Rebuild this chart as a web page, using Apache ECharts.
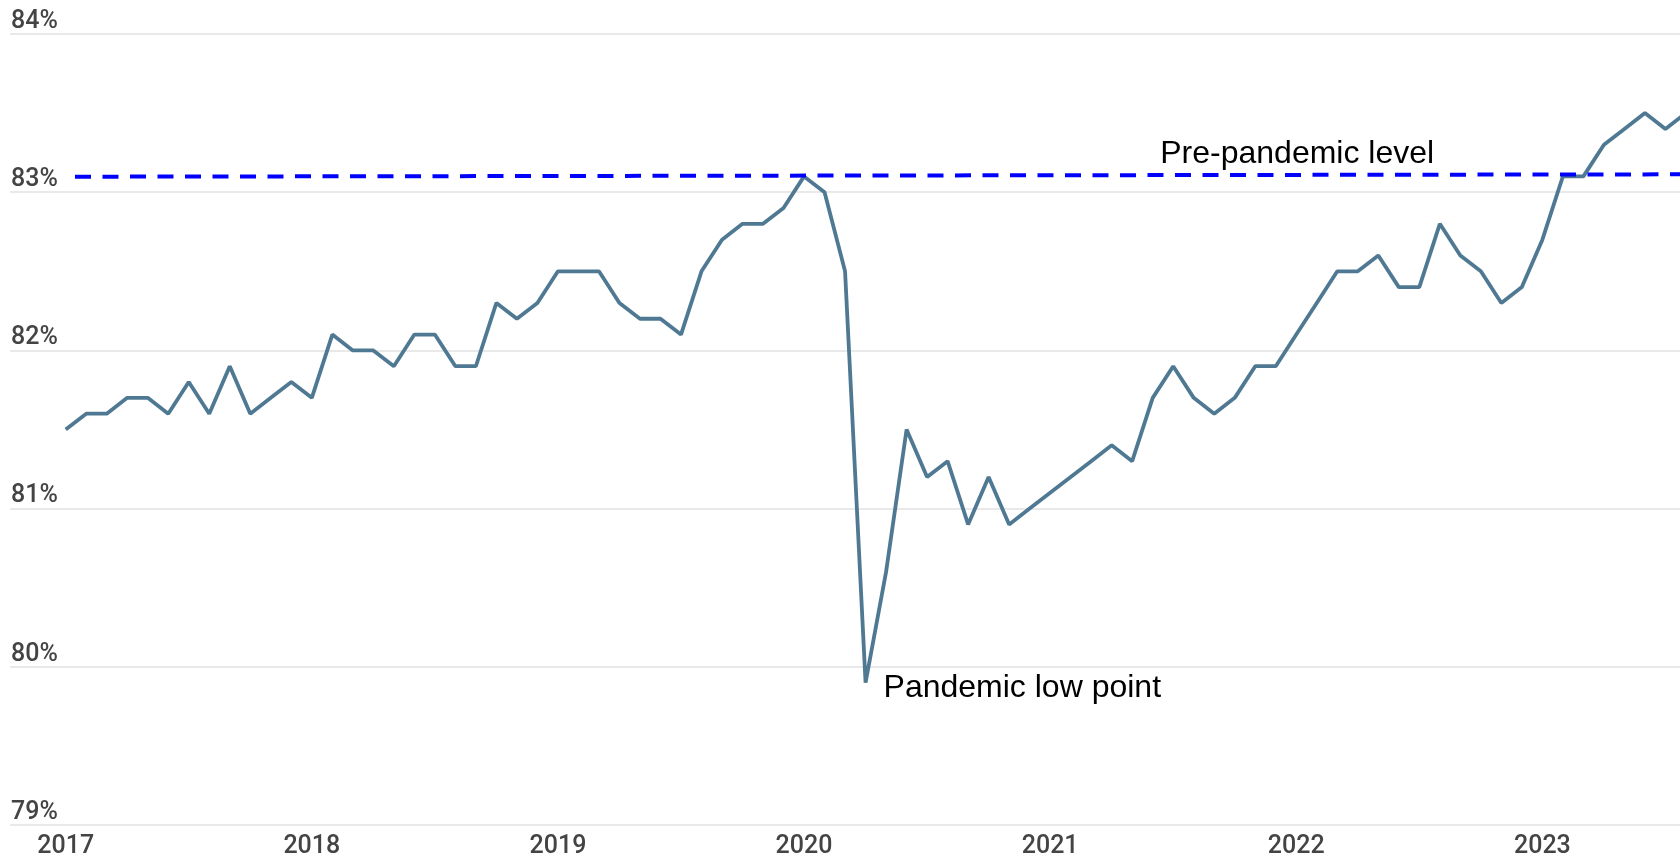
<!DOCTYPE html>
<html>
<head>
<meta charset="utf-8">
<script src="https://cdn.jsdelivr.net/npm/echarts@6/dist/echarts.min.js"></script>
<style>
  html, body { margin: 0; padding: 0; background: #ffffff; }
  #chart { width: 1680px; height: 859px; }
</style>
</head>
<body>
<div id="chart"></div>
<script>
// Monthly values, January 2017 onward (percent)
const values2017 = [81.5, 81.6, 81.6, 81.7, 81.7, 81.6, 81.8, 81.6, 81.9, 81.6, 81.7, 81.8];
const values2018 = [81.7, 82.1, 82.0, 82.0, 81.9, 82.1, 82.1, 81.9, 81.9, 82.3, 82.2, 82.3];
const values2019 = [82.5, 82.5, 82.5, 82.3, 82.2, 82.2, 82.1, 82.5, 82.7, 82.8, 82.8, 82.9];
const values2020 = [83.1, 83.0, 82.5, 79.9, 80.6, 81.5, 81.2, 81.3, 80.9, 81.2, 80.9, 81.0];
const values2021 = [81.1, 81.2, 81.3, 81.4, 81.3, 81.7, 81.9, 81.7, 81.6, 81.7, 81.9, 81.9];
const values2022 = [82.1, 82.3, 82.5, 82.5, 82.6, 82.4, 82.4, 82.8, 82.6, 82.5, 82.3, 82.4];
const values2023 = [82.7, 83.1, 83.1, 83.3, 83.4, 83.5, 83.4, 83.5];

const yearLabels = ['2017', '2018', '2019', '2020', '2021', '2022', '2023'];
const yTicks = [79, 80, 81, 82, 83, 84];

const preCovidLevel = 83.1;
const lowPointValue = 79.9;
const lowPointIndex = 39; // April 2020
const annotationLow = 'Pandemic low point';
const annotationPre = 'Pre-pandemic level';

const allValues = [].concat(values2017, values2018, values2019, values2020, values2021, values2022, values2023);
const seriesData = allValues.map((v, i) => [i, v]);

const chart = echarts.init(document.getElementById('chart'), null, { renderer: 'canvas' });

const labelFont = { fontFamily: 'Roboto', fontSize: 25, fontWeight: 500, color: '#444444' };

const option = {
  animation: false,
  backgroundColor: '#ffffff',
  grid: { left: 10, right: 0, top: 34, bottom: 34, containLabel: false },
  xAxis: {
    type: 'value',
    min: -2.716,
    max: 78.71,
    axisLine: { show: false },
    axisTick: { show: false },
    splitLine: { show: false },
    axisLabel: Object.assign({
      customValues: [0, 12, 24, 36, 48, 60, 72],
      formatter: (v) => yearLabels[Math.round(v / 12)],
      margin: 9
    }, labelFont)
  },
  yAxis: {
    type: 'value',
    min: yTicks[0],
    max: yTicks[yTicks.length - 1],
    interval: 1,
    axisLine: { show: false },
    axisTick: { show: false },
    splitLine: { lineStyle: { color: '#e2e2e2', width: 1.5 } },
    axisLabel: Object.assign({
      inside: true,
      margin: 1,
      formatter: (v) => v + '%',
      verticalAlign: 'bottom',
      lineHeight: 25,
      padding: [0, 0, 0, 0]
    }, labelFont)
  },
  series: [
    {
      type: 'line',
      data: seriesData,
      showSymbol: false,
      symbol: 'none',
      clip: true,
      lineStyle: { color: '#4f7993', width: 3.8 },
      markLine: {
        silent: true,
        symbol: ['none', 'none'],
        label: { show: false },
        lineStyle: { color: '#0000ff', width: 4, type: [16, 11.5] },
        data: [
          [
            { coord: [0.453, preCovidLevel - 0.002] },
            { coord: [78.71, preCovidLevel + 0.013] }
          ]
        ]
      },
      markPoint: {
        silent: true,
        symbol: 'circle',
        symbolSize: 0,
        data: [
          {
            coord: [lowPointIndex, lowPointValue],
            label: {
              show: true,
              formatter: annotationLow,
              position: 'inside',
              align: 'left',
              verticalAlign: 'middle',
              offset: [18, 6],
              fontFamily: 'Liberation Sans',
              fontSize: 32,
              color: '#000000'
            }
          },
          {
            coord: [53.32, preCovidLevel],
            label: {
              show: true,
              formatter: annotationPre,
              position: 'inside',
              align: 'left',
              verticalAlign: 'middle',
              offset: [1, -22],
              fontFamily: 'Liberation Sans',
              fontSize: 32,
              color: '#000000'
            }
          }
        ]
      }
    }
  ]
};

chart.setOption(option);
</script>
</body>
</html>
